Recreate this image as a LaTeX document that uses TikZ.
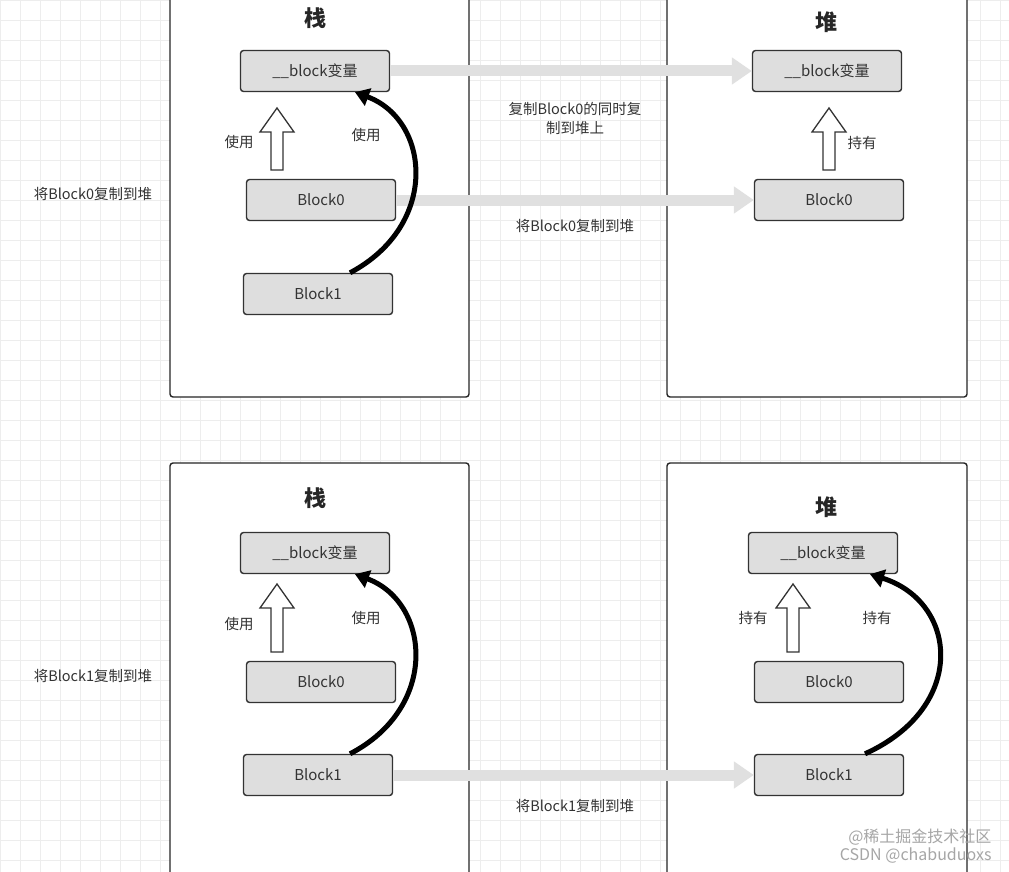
\documentclass[tikz,border=0pt]{standalone}
\usepackage{fontspec}
\setmainfont{Noto Sans CJK SC}
\usetikzlibrary{arrows.meta}
\begin{document}
\begin{tikzpicture}[x=1pt,y=-1pt,
  big/.style={draw=black!85,line width=1.4pt,rounded corners=3pt,fill=white},
  sbox/.style={draw=black!80,line width=1.4pt,rounded corners=3pt,fill=black!13,minimum width=149pt,minimum height=41pt,font=\fontsize{15}{15}\selectfont,text=black!80},
  ttl/.style={font=\fontsize{22}{22}\selectfont\bfseries,text=black!85},
  lbl/.style={font=\fontsize{14.5}{19}\selectfont,text=black!80,align=center},
  gray arrow/.style={draw=black!12,line width=11pt,-{Triangle[length=20pt,width=26pt]}},
  curve/.style={line width=5pt,-{Triangle[length=14pt,width=18pt]}},
  hollow/.style={draw=black!80,line width=1.3pt,fill=white}]
\useasboundingbox (0,0) rectangle (1009,872);
\fill[white] (0,0) rectangle (1009,872);
\draw[black!7,line width=0.6pt] (0,0) grid[step=20pt] (1009,872);
% big boxes
\draw[big] (170,-10) rectangle (469,397);
\draw[big] (667,-10) rectangle (967,397);
\draw[big] (170,463) rectangle (469,890);
\draw[big] (667,463) rectangle (967,890);
\node[ttl] (t1) at (315,18) {栈};
\node[ttl] (t2) at (826,22) {堆};
\node[ttl] (t3) at (315,498) {栈};
\node[ttl] (t4) at (826,507) {堆};
% top
\node[sbox] (av) at (315,71) {\_\_block变量};
\node[sbox] (a0) at (321,200) {Block0};
\node[sbox] (a1) at (318,294) {Block1};
\node[sbox] (bv) at (827,71) {\_\_block变量};
\node[sbox] (b0) at (829,200) {Block0};
% bottom
\node[sbox] (cv) at (315,553) {\_\_block变量};
\node[sbox] (c0) at (321,682) {Block0};
\node[sbox] (c1) at (318,775) {Block1};
\node[sbox] (dv) at (823,553) {\_\_block变量};
\node[sbox] (d0) at (829,682) {Block0};
\node[sbox] (d1) at (829,775) {Block1};
% gray arrows
\draw[gray arrow] (av.east) -- (bv.west);
\draw[gray arrow] (a0.east) -- (b0.west);
\draw[gray arrow] (c1.east) -- (d1.west);
% hollow arrows
\foreach \x/\yb/\yt in {277/170/108, 829/170/108, 277/652/584, 793/652/584}{
  \draw[hollow] (\x-6,\yb) -- (\x+6,\yb) -- (\x+6,\yt+24) -- (\x+17,\yt+24) -- (\x,\yt) -- (\x-17,\yt+24) -- (\x-6,\yt+24) -- cycle;
}
% curved arrows
\draw[curve] ([xshift=32pt]a1.north) .. controls (440,225) and (430,120) .. ([xshift=40pt]av.south);
\draw[curve] ([xshift=32pt]c1.north) .. controls (440,707) and (430,602) .. ([xshift=40pt]cv.south);
\draw[curve] ([xshift=36pt]d1.north) .. controls (968,707) and (958,602) .. ([xshift=47pt]dv.south);
% labels
\node[lbl] (l1) at (239,142) {使用};
\node[lbl] (l2) at (366,135) {使用};
\node[lbl] (l3) at (862,143) {持有};
\node[lbl] (l4) at (239,624) {使用};
\node[lbl] (l5) at (366,618) {使用};
\node[lbl] (l6) at (753,618) {持有};
\node[lbl] (l7) at (877,618) {持有};
\node[lbl] (m1) at (575,118) {复制Block0的同时复\\制到堆上};
\node[lbl] (m2) at (575,226) {将Block0复制到堆};
\node[lbl] (m3) at (575,806) {将Block1复制到堆};
\node[lbl] (s1) at (93,194) {将Block0复制到堆};
\node[lbl] (s2) at (93,676) {将Block1复制到堆};
\node[font=\fontsize{16}{18}\selectfont,text=black!35,align=right,anchor=east] (wm) at (995,846) {@稀土掘金技术社区\\CSDN @chabuduoxs};
\end{tikzpicture}
\end{document}
